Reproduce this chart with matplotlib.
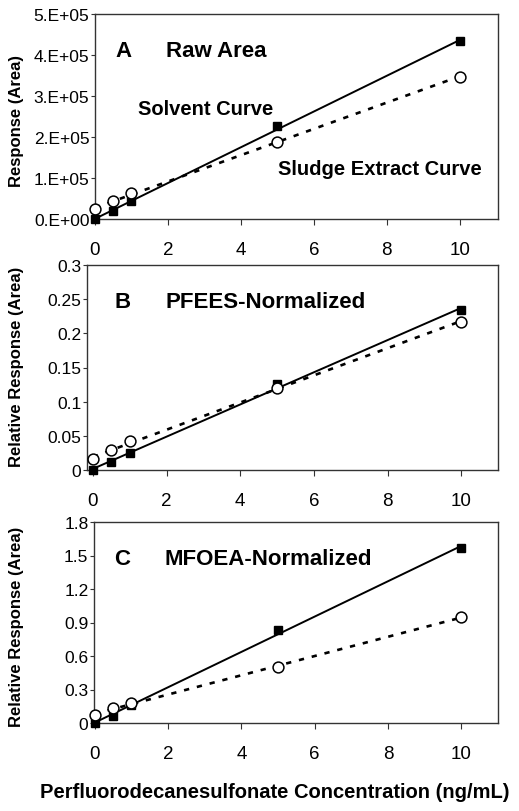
import numpy as np
import matplotlib
matplotlib.use("Agg")
import matplotlib.pyplot as plt

plt.rcParams['font.family'] = ['Liberation Sans', 'DejaVu Sans']

conc = [0, 0.5, 1, 5, 10]

# Panel A: raw area
a_solvent = [0, 2.0e4, 4.3e4, 2.26e5, 4.33e5]
a_sludge = [2.4e4, 4.3e4, 6.3e4, 1.89e5, 3.47e5]
# Panel B: PFEES-normalized
b_solvent = [0, 0.012, 0.025, 0.126, 0.234]
b_sludge = [0.016, 0.029, 0.042, 0.120, 0.217]
# Panel C: MFOEA-normalized
c_solvent = [0, 0.066, 0.16, 0.837, 1.566]
c_sludge = [0.075, 0.13, 0.177, 0.505, 0.948]

a_yticks = [0, 1e5, 2e5, 3e5, 4e5, 5e5]
a_ylabels = ['0.E+00', '1.E+05', '2.E+05', '3.E+05', '4.E+05', '5.E+05']
b_yticks = [0, 0.05, 0.1, 0.15, 0.2, 0.25, 0.3]
b_ylabels = ['0', '0.05', '0.1', '0.15', '0.2', '0.25', '0.3']
c_yticks = [0, 0.3, 0.6, 0.9, 1.2, 1.5, 1.8]
c_ylabels = ['0', '0.3', '0.6', '0.9', '1.2', '1.5', '1.8']
xticks = [0, 2, 4, 6, 8, 10]

W, H = 519, 812
fig = plt.figure(figsize=(W / 100, H / 100), dpi=100)

def make_ax(l, r, t, b):
    return fig.add_axes([l / W, 1 - b / H, (r - l) / W, (b - t) / H])

axA = make_ax(95, 498, 15, 220)
axB = make_ax(87, 498, 266, 471)
axC = make_ax(94, 498, 523, 724)

spine_col = '#333333'

def draw(ax, solv, sludge, yticks, ylabels, letter, title, ylim, xlim, lx, tx):
    x = np.array(conc, dtype=float)
    xs = np.array([0, 10], dtype=float)
    p1 = np.polyfit(x, solv, 1)
    p2 = np.polyfit(x, sludge, 1)
    ax.plot(xs, np.polyval(p1, xs), color='black', lw=1.4, zorder=2)
    ax.plot(xs, np.polyval(p2, xs), color='black', lw=1.9,
            linestyle=(0, (2.0, 3.0)), zorder=2)
    ax.plot(x, solv, linestyle='none', marker='s', ms=6.4, mfc='black',
            mec='black', zorder=3, clip_on=False)
    ax.plot(x, sludge, linestyle='none', marker='o', ms=7.8, mfc='white',
            mec='black', mew=1.1, zorder=4, clip_on=False)
    ax.set_xlim(*xlim)
    ax.set_ylim(*ylim)
    ax.set_xticks(xticks)
    ax.set_xticklabels([str(t) for t in xticks])
    ax.set_yticks(yticks)
    ax.set_yticklabels(ylabels)
    ax.tick_params(axis='x', direction='out', length=4, width=0.8,
                   color=spine_col, labelsize=13.5, pad=12)
    ax.tick_params(axis='y', direction='out', length=3, width=0.8,
                   color=spine_col, labelsize=12.5, pad=1)
    for s in ax.spines.values():
        s.set_color(spine_col)
        s.set_linewidth(1.0)
    ax.text(lx, 0.82, letter, transform=ax.transAxes, fontsize=16,
            fontweight='bold', va='center', ha='left')
    ax.text(tx, 0.82, title, transform=ax.transAxes, fontsize=16,
            fontweight='bold', va='center', ha='left')

draw(axA, a_solvent, a_sludge, a_yticks, a_ylabels,
     'A', 'Raw Area', (0, 5e5), (0, 11.05), 0.05, 0.176)
draw(axB, b_solvent, b_sludge, b_yticks, b_ylabels,
     'B', 'PFEES-Normalized', (0, 0.3), (-0.16, 11.0), 0.068, 0.191)
draw(axC, c_solvent, c_sludge, c_yticks, c_ylabels,
     'C', 'MFOEA-Normalized', (0, 1.8), (-0.02, 11.0), 0.05, 0.174)

axA.text(0.107, 0.537, 'Solvent Curve', transform=axA.transAxes,
         fontsize=14.5, fontweight='bold', va='center', ha='left')
axA.text(0.454, 0.244, 'Sludge Extract Curve', transform=axA.transAxes,
         fontsize=14.5, fontweight='bold', va='center', ha='left')

fig.text(17 / W, 1 - 121 / H, 'Response (Area)', rotation=90,
         fontsize=12, fontweight='bold', ha='center', va='center')
fig.text(17 / W, 1 - 367 / H, 'Relative Response (Area)', rotation=90,
         fontsize=12, fontweight='bold', ha='center', va='center')
fig.text(17 / W, 1 - 627 / H, 'Relative Response (Area)', rotation=90,
         fontsize=12, fontweight='bold', ha='center', va='center')
fig.text(275 / W, 1 - 793 / H, 'Perfluorodecanesulfonate Concentration (ng/mL)',
         fontsize=14.5, fontweight='bold', ha='center', va='center')

fig.savefig('out.png', dpi=100)
